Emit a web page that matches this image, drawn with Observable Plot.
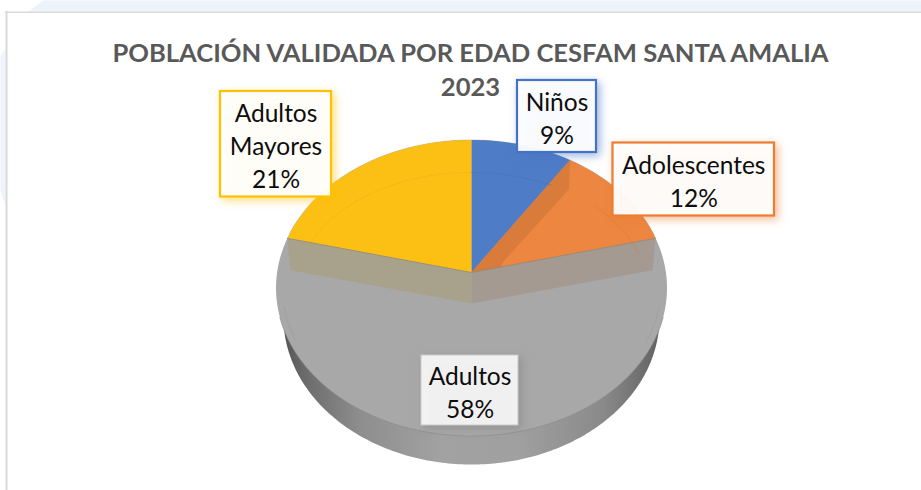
<!DOCTYPE html>
<html>
<head>
<meta charset="utf-8">
<script src="https://cdn.jsdelivr.net/npm/d3@7"></script>
<script src="https://cdn.jsdelivr.net/npm/@observablehq/plot@0.6"></script>
<style>
html,body{margin:0;padding:0;background:#fff;overflow:hidden}
svg{display:block}
</style>
</head>
<body>
<div id="chart"></div>
<script>
// data
const categories = ["Niños", "Adolescentes", "Adultos", "Adultos Mayores"];
const shares = [9, 12, 58, 21];
const sliceColors = ["#4f7cc6", "#ec8640", "#a8a8a8", "#fcc014"];
const labelLines = ["Niños\n9%", "Adolescentes\n12%", "Adultos\n58%", "Adultos\nMayores\n21%"];
const titleLines = ["POBLACIÓN VALIDADA POR EDAD CESFAM SANTA AMALIA", "2023"];

// layout
const W = 921, H = 490;
const C = {x: 471, y: 287.5}, R = {x: 195.5, y: 148};
const A = {x: 471, y: 272}, dir = {x: 185, y: 134};
const bandDepth = 31;
const wallC = {x: 471, y: 317}, wallR = {x: 188, y: 147};
const boxes = [
  {x1: 517, x2: 596, y1: 80, y2: 152, stroke: "#4472c4", fill: "#fff", lw: 2.2},
  {x1: 612.5, x2: 774, y1: 142.5, y2: 215.5, stroke: "#ed7d31", fill: "#fff", lw: 2.2},
  {x1: 421, x2: 518, y1: 355, y2: 425, stroke: "#c9c9c9", fill: "#f7f7f7", lw: 1},
  {x1: 220, x2: 331, y1: 91, y2: 196.5, stroke: "#ffc000", fill: "#fff", lw: 2.2}
];

// geometry from the shares
const arcs = d3.pie().sort(null).value(d => d)(shares);
function rim(t) {
  const dx = dir.x * Math.sin(t), dy = -dir.y * Math.cos(t);
  const ox = A.x - C.x, oy = A.y - C.y;
  const a = dx*dx/(R.x*R.x) + dy*dy/(R.y*R.y);
  const b = 2*(ox*dx/(R.x*R.x) + oy*dy/(R.y*R.y));
  const c = ox*ox/(R.x*R.x) + oy*oy/(R.y*R.y) - 1;
  const s = (-b + Math.sqrt(b*b - 4*a*c)) / (2*a);
  return {x: A.x + s*dx, y: A.y + s*dy};
}
const wedge = (a) => [A, ...d3.range(0, 61).map(i => rim(a.startAngle + (a.endAngle - a.startAngle) * i / 60))];
const ell = (c, r, t0, t1, n = 180) => d3.range(n + 1).map(i => {
  const t = t0 + (t1 - t0) * i / n;
  return {x: c.x + r.x * Math.cos(t), y: c.y + r.y * Math.sin(t)};
});
const poly = (pts, fill, o = {}) => Plot.line(pts, {x: "x", y: "y", fill, stroke: "none", curve: "linear-closed", ...o});
const arcLine = (pts, stroke, o = {}) => Plot.line(pts, {x: "x", y: "y", stroke, strokeWidth: 1, ...o});

const rimL = rim(arcs[3].startAngle), rimR = rim(arcs[2].startAngle);
const rimNA = rim(arcs[1].startAngle);
const wallStops = [[0, "#555555"], [0.06, "#6c6c6c"], [0.2, "#8d8d8d"], [0.42, "#a2a2a2"], [0.62, "#a0a0a0"], [0.85, "#8a8a8a"], [1, "#626262"]];

const defs = () => {
  const d = d3.create("svg:defs");
  const g = d.append("linearGradient").attr("id", "wallGrad");
  wallStops.forEach(([o, c]) => g.append("stop").attr("offset", o).attr("stop-color", c));
  return d.node();
};

const plot = Plot.plot({
  width: W, height: H, margin: 0,
  x: {domain: [0, W], range: [0, W], axis: null},
  y: {domain: [0, H], range: [0, H], axis: null},
  marks: [
    defs,
    // page backdrop and chart frame
    poly([{x: 43, y: 0}, {x: W, y: 0}, {x: W, y: 11}, {x: 28, y: 11}], "#ecf3fb"),
    poly([{x: 5, y: 48}, {x: 5, y: 205}, {x: 0, y: 190}, {x: 0, y: 56}], "#edf4fb"),
    Plot.ruleY([11.7], {x1: 5, x2: W, stroke: "#d9d9d9", strokeWidth: 1.6}),
    Plot.ruleX([6], {y1: 11, y2: H, stroke: "#d9d9d9", strokeWidth: 2}),
    // side wall
    poly(ell(wallC, wallR, 0, Math.PI), "url(#wallGrad)"),
    // whole disc: the biggest slice shows as the disc surface
    poly(ell(C, R, 0, 2 * Math.PI), sliceColors[2]),
    arcLine(ell(C, R, 0.2, Math.PI - 0.2), "#8c8c8c", {strokeOpacity: 0.7}),
    arcLine(ell(C, R, Math.PI + 0.37, 2 * Math.PI - 0.37), "#8c8c8c", {strokeOpacity: 0.4}),
    arcLine(ell({x: 471, y: 287.5}, {x: 189, y: 143}, Math.PI * 0.04, Math.PI * 0.12), "#969696", {strokeOpacity: 0.35}),
    arcLine(ell({x: 471, y: 287.5}, {x: 189, y: 143}, Math.PI * 0.88, Math.PI * 0.96), "#969696", {strokeOpacity: 0.35}),
    // band seen through the front slice
    poly([rimL, A, {x: A.x, y: A.y + bandDepth}, {x: rimL.x + 3, y: rimL.y + bandDepth + 1}], "#a8a28d"),
    poly([rimR, A, {x: A.x, y: A.y + bandDepth}, {x: rimR.x - 3, y: rimR.y + bandDepth + 1}], "#a59a92"),
    // back slices
    ...[0, 1, 3].map(i => poly(wedge(arcs[i]), sliceColors[i])),
    poly([rimNA, {x: rimNA.x - 1, y: rimNA.y + 29}, {x: 503, y: 261}, {x: 500, y: 266.6}, A], "#d87b3b"),
    // faint inner arcs on the back slices
    arcLine(ell({x: 471, y: 290}, {x: 176, y: 118}, Math.PI * 1.12, Math.PI * 1.5), "#e6aa12", {strokeOpacity: 0.4}),
    arcLine(ell({x: 471, y: 290}, {x: 176, y: 118}, Math.PI * 1.5, Math.PI * 1.65), "#4a72b8", {strokeOpacity: 0.5}),
    arcLine(ell({x: 471, y: 290}, {x: 176, y: 118}, Math.PI * 1.75, Math.PI * 1.9), "#dd7a35", {strokeOpacity: 0.5}),
    // slice edges
    Plot.line([rimL, A, rimR], {x: "x", y: "y", stroke: "#8f8a76", strokeWidth: 0.8}),
    // label boxes
    Plot.rect(boxes, {x1: "x1", x2: "x2", y1: "y1", y2: "y2", fill: "fill", fillOpacity: 0.94, stroke: "stroke", strokeWidth: "lw"}),
    // label text
    Plot.text(labelLines, {
      x: (d, i) => (boxes[i].x1 + boxes[i].x2) / 2,
      y: (d, i) => (boxes[i].y1 + boxes[i].y2) / 2,
      text: d => d, fontFamily: "Lato", fontSize: 24.5, lineHeight: 1.35, fill: "#0d0d0d"
    }),
    // title
    Plot.text(titleLines, {
      x: 470, y: (d, i) => 53 + i * 34.5,
      text: d => d, fontFamily: "Lato", fontWeight: 700, fontSize: 25.6, fill: "#595959"
    })
  ]
});
d3.select(plot).style("background", "#fff");
d3.select(plot).selectAll("rect").each(function (d, i) {
  const shadow = i === 2 ? "#7d7d7d" : boxes[i].stroke;
  this.style.filter = `drop-shadow(3px 3px 4px ${shadow}88)`;
});
document.getElementById("chart").append(plot);
</script>
</body>
</html>
